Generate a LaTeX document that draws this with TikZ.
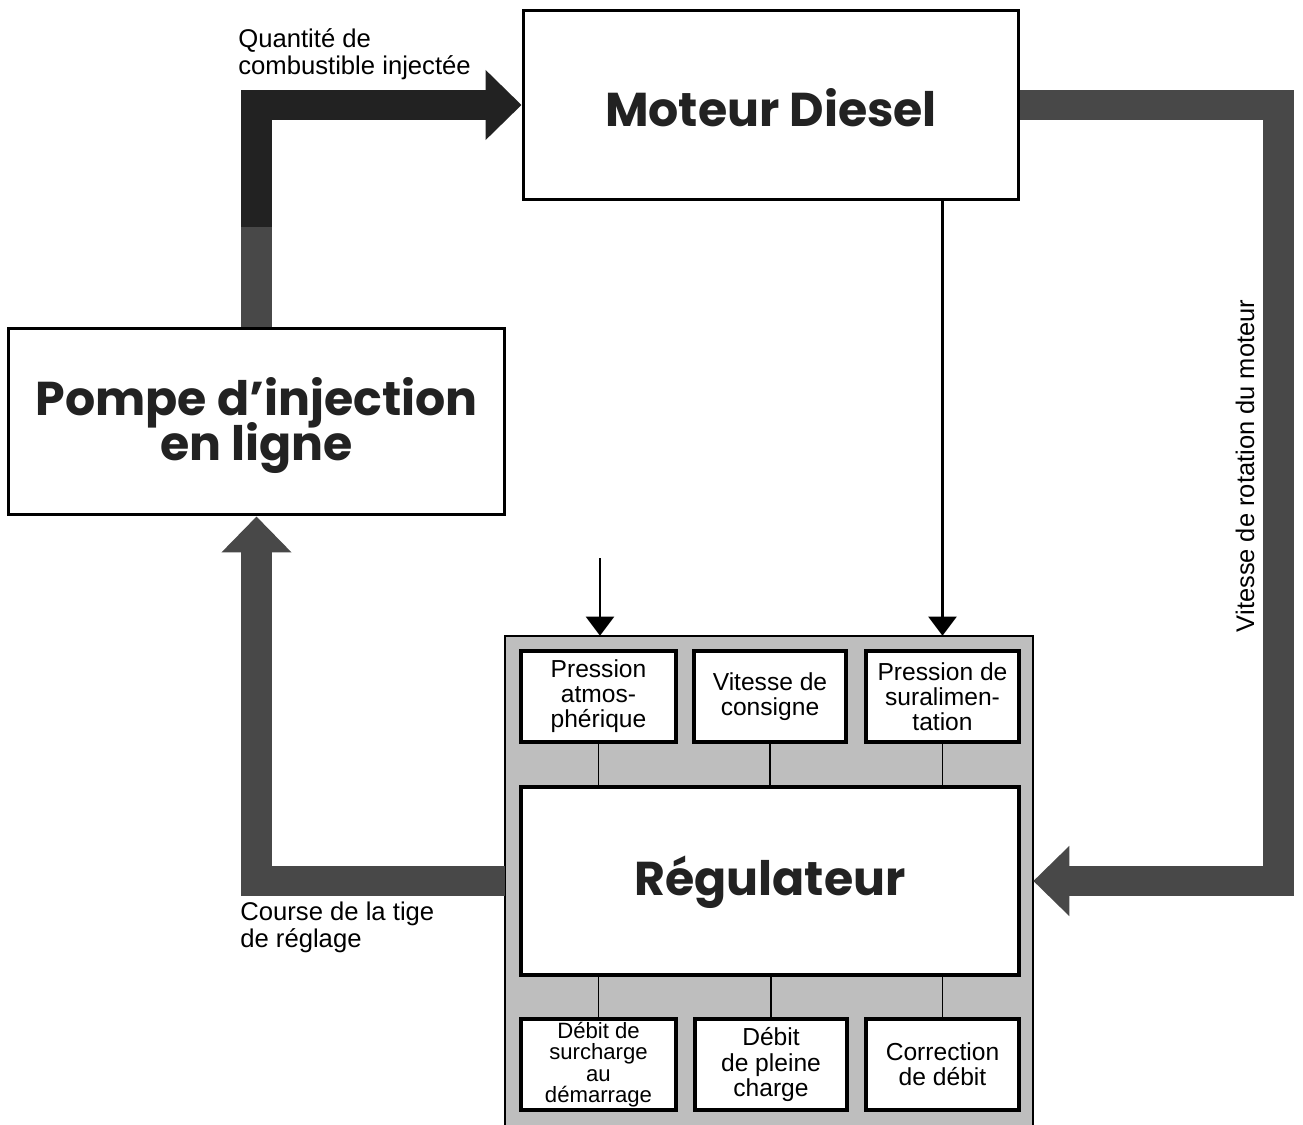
\documentclass[tikz,border=0pt]{standalone}
\usepackage{fontspec}
\setmainfont{Liberation Sans}
\newfontfamily\titlefont{Poppins}
\usetikzlibrary{arrows.meta,calc}
\definecolor{bandgrey}{HTML}{484848}
\definecolor{bandblack}{HTML}{222222}
\definecolor{shadegrey}{HTML}{BEBEBE}
\definecolor{titleink}{HTML}{222222}
\lineskiplimit=-20pt
\begin{document}
\begin{tikzpicture}[x=0.02cm,y=-0.02cm,
 bigbox/.style={draw=black, line width=0.06cm, fill=white, inner sep=0pt, align=center, text=titleink,
   font={\titlefont\bfseries\fontsize{27}{25.5}\selectfont}},
 smallbox/.style={draw=black, line width=0.08cm, fill=white, inner sep=0pt, minimum height=1.82cm,
   align=center, font={\fontsize{14}{14.3}\selectfont}},
 lbl/.style={align=left, anchor=north west, inner sep=0pt, font={\fontsize{14.6}{15.3}\selectfont}},
 bandarrow/.style={line width=0.62cm, line join=miter, draw=bandgrey,
   -{Triangle[width=1.36cm,length=0.72cm]}},
 bandline/.style={line width=0.62cm, draw=bandgrey},
 thinarrow/.style={line width=0.045cm, -{Triangle[width=0.56cm,length=0.38cm]}},
 link/.style={line width=0.03cm}
]
\useasboundingbox[fill=white] (0,0) rectangle (1303,1125);

% shaded regulator area
\node[fill=shadegrey, minimum width=10.56cm, minimum height=9.78cm, inner sep=0pt] (area) at (769,880.5) {};
\draw[line width=0.04cm] (area.south west) -- (area.north west) -- (area.north east) -- (area.south east);

% main boxes
\node[bigbox, minimum width=9.92cm, minimum height=3.8cm, text height=25pt, text depth=0pt] (moteur) at (771,105) {Moteur Diesel};
\node[bigbox, minimum width=9.94cm, minimum height=3.74cm] (pompe) at (256.5,421.5) {\rule{0pt}{26pt}Pompe d’injection\\en ligne};
\node[bigbox, line width=0.08cm, minimum width=9.96cm, minimum height=3.76cm, text height=16pt, text depth=0pt] (reg) at (770,881) {Régulateur};

% small boxes, top row
\node[smallbox, minimum width=3.1cm] (patm) at (598.5,696.5) {Pression\\atmos-\\phérique};
\node[smallbox, minimum width=3.04cm] (vcons) at (770,696.5) {Vitesse de\\consigne};
\node[smallbox, minimum width=3.06cm] (psur) at (942.5,696.5) {Pression de\\suralimen-\\tation};

% small boxes, bottom row
\node[smallbox, minimum width=3.1cm, font={\fontsize{12.6}{12.2}\selectfont}] (dsur) at (598.5,1064.5) {Débit de\\surcharge\\au\\démarrage};
\node[smallbox, minimum width=3.04cm] (dplein) at (771,1064.5) {Débit\\de pleine\\charge};
\node[smallbox, minimum width=3.06cm] (corr) at (942.5,1064.5) {Correction\\de débit};

% links
\draw[link] (patm.south) -- (patm.south |- reg.north);
\draw[link] (vcons.south) -- (vcons.south |- reg.north);
\draw[link] (psur.south) -- (psur.south |- reg.north);
\draw[link] (dsur.north) -- (dsur.north |- reg.south);
\draw[link] (dplein.north) -- (dplein.north |- reg.south);
\draw[link] (corr.north) -- (corr.north |- reg.south);

% thin arrows
\coordinate (atm) at (600,558);
\draw[thinarrow] (atm) -- (atm |- area.north);
\draw[thinarrow] (moteur.south -| psur) -- (psur |- area.north);

% thick arrows
\draw[bandline] (pompe.north) -- ($(pompe.north)+(0,-101)$);
\draw[bandarrow, draw=bandblack] ($(pompe.north)+(0,-100)$) |- (moteur.west);
\draw[bandarrow] (moteur.east) -- ++(258,0) |- (area.east |- reg);
\draw[bandarrow] (area.west |- reg) -| (pompe.south);

% labels
\node[lbl] (qlab) at (238,28) {Quantité de\\combustible injectée};
\node[lbl] (clab) at (240,902) {Course de la tige\\de réglage};
\node[rotate=90, inner sep=0pt, font={\fontsize{14.5}{15.3}\selectfont}] (vlab) at (1245,466) {Vitesse de rotation du moteur};
\end{tikzpicture}
\end{document}
